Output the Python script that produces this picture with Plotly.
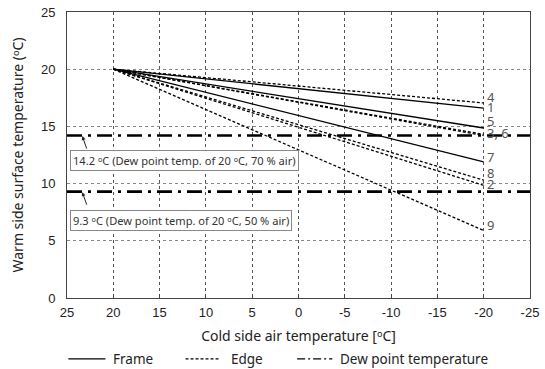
import plotly.graph_objects as go

# ---- data ----
cold_x = [20, -20]
start_temp = 20
line_ids = ["1", "2", "3", "4", "5", "6", "7", "8", "9"]
line_kind = ["Frame", "Edge", "Edge", "Edge", "Frame", "Edge", "Frame", "Edge", "Edge"]
end_temp = [16.6, 9.85, 14.3, 17.05, 14.86, 14.2, 11.9, 10.3, 5.9]

end_labels = ["4", "1", "5", "3, 6", "7", "8", "2", "9"]
end_label_vals = [17.6, 16.67, 15.5, 14.4, 12.3, 10.95, 10.0, 6.4]

dew_values = [14.2, 9.3]
dew_texts = ["14.2 ᵒC (Dew point temp. of 20 ᵒC, 70 % air)",
             "9.3 ᵒC (Dew point temp. of 20 ᵒC, 50 % air)"]
dew_box_y = [12.05, 6.8]

x_ticks = [25, 20, 15, 10, 5, 0, -5, -10, -15, -20, -25]
x_ticktext = ["25", "20", "15", "10", "5", "0", "-5", "-10", "-15", "-20", "-25"]
y_ticks = [0, 5, 10, 15, 20, 25]

legend_names = ["Frame", "Edge", "Dew point temperature"]

FONT = "Liberation Sans, Arial, sans-serif"
UIFONT = "Noto Sans, Open Sans, sans-serif"
STYLE = {"Frame": dict(width=1.3, dash="solid"),
         "Edge": dict(width=1.3, dash="3px,2px"),
         "Dew point temperature": dict(width=2.6, dash="15px,6px,3px,6px")}

fig = go.Figure()

for lid, kind, ev in zip(line_ids, line_kind, end_temp):
    fig.add_trace(go.Scatter(
        x=cold_x, y=[start_temp, ev], mode="lines",
        line=dict(color="black", **STYLE[kind]),
        showlegend=False, hoverinfo="skip"))

for dv in dew_values:
    fig.add_trace(go.Scatter(
        x=[25, -25], y=[dv, dv], mode="lines",
        line=dict(color="black", **STYLE["Dew point temperature"]),
        showlegend=False, hoverinfo="skip"))

annotations = []
for lab, v in zip(end_labels, end_label_vals):
    annotations.append(dict(x=-20.15, y=v, text=lab, showarrow=False, xanchor="left",
                            yanchor="middle", font=dict(family=UIFONT, size=13, color="#555")))

for dv, txt, by in zip(dew_values, dew_texts, dew_box_y):
    annotations.append(dict(x=24.64, y=by, text=txt, showarrow=False, xanchor="left",
                            yanchor="middle", bordercolor="#888", borderwidth=1,
                            borderpad=2, bgcolor="white",
                            font=dict(family=UIFONT, size=11.1, color="#333")))
    annotations.append(dict(x=23.35, y=dv - 0.05, ax=5, ay=14, text="", showarrow=True,
                            arrowhead=2, arrowsize=0.8, arrowwidth=1, arrowcolor="#222",
                            xref="x", yref="y"))

# manual legend (paper coords; plot area 463 px wide, 286 px tall)
shapes = []
leg_x = [(0.003, 0.083, 0.095), (0.256, 0.331, 0.350), (0.497, 0.573, 0.585)]
leg_y = -0.213
for name, (x0, x1, xt) in zip(legend_names, leg_x):
    st = STYLE[name]
    shapes.append(dict(type="line", xref="paper", yref="paper", x0=x0, x1=x1,
                       y0=leg_y, y1=leg_y,
                       line=dict(color="black", width=1.3,
                                 dash="8px,3px,2px,3px" if name.startswith("Dew") else st["dash"])))
    annotations.append(dict(xref="paper", yref="paper", x=xt, y=leg_y, text=name,
                            showarrow=False, xanchor="left", yanchor="middle",
                            font=dict(family=UIFONT, size=13.5, color="#222")))

fig.update_layout(
    width=545, height=369,
    margin=dict(l=67, r=15, t=12, b=71),
    paper_bgcolor="white", plot_bgcolor="white",
    font=dict(family=FONT, color="#222", size=13),
    annotations=annotations, shapes=shapes, showlegend=False,
)
fig.update_xaxes(range=[25, -25], tickvals=x_ticks, ticktext=x_ticktext, showgrid=True,
                 gridcolor="#555", griddash="dot", gridwidth=1, zeroline=False, showline=True,
                 linecolor="#444", linewidth=1, mirror=True, ticks="inside", ticklen=4,
                 tickcolor="#444", tickfont=dict(family=FONT, size=13, color="#222"),
                 ticklabelstandoff=2, automargin=False,
                 title=dict(text="Cold side air temperature [ᵒC]", standoff=12,
                            font=dict(family=UIFONT, size=14, color="#222")))
fig.update_yaxes(range=[0, 25], tickvals=y_ticks, showgrid=True, gridcolor="#888",
                 griddash="dot", gridwidth=1, zeroline=False, showline=True,
                 linecolor="#444", linewidth=1, mirror=True, ticks="",
                 ticklabelstandoff=8, automargin=False,
                 tickfont=dict(family=FONT, size=13, color="#222"),
                 title=dict(text="Warm side surface temperature (ᵒC)", standoff=14,
                            font=dict(family=UIFONT, size=14, color="#222")))

fig.write_html("out.html", config={"displayModeBar": False},
               post_script="document.body.style.margin='0px';")
